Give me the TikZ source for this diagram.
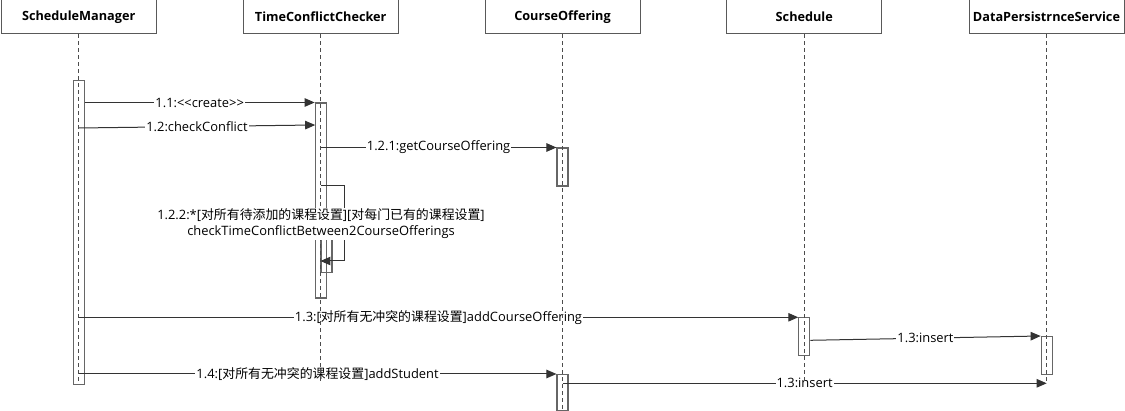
\documentclass[tikz,border=0pt]{standalone}
\usepackage{fontspec}
\setmainfont{Open Sans}
\newfontfamily\cjk{Noto Sans CJK SC}
\usetikzlibrary{arrows.meta}

\tikzset{
  obj/.style={draw=black!65, fill=white, line width=1pt, minimum width=155pt, minimum height=34pt, inner sep=0pt, font=\fontsize{12.7}{14}\selectfont\bfseries},
  act/.style={draw=black!60, line width=1.1pt, minimum width=11pt, inner sep=0pt, anchor=north},
  lifeline/.style={draw=black!70, line width=0.9pt, dash pattern=on 4pt off 3pt},
  msg/.style={draw=black!80, line width=1pt, -{Triangle[length=10pt,width=8.5pt]}},
  lbl/.style={fill=white, inner sep=1pt, font=\fontsize{12.9}{14}\selectfont}
}

\begin{document}
\begin{tikzpicture}[x=1pt, y=-1pt]
  \useasboundingbox (0,0) rectangle (1125,411);
  % objects
  \node[obj] (sm) at (78.7,17) {ScheduleManager};
  \node[obj] (tcc) at (320.7,17) {TimeConflictChecker};
  \node[obj] (co) at (562.5,17) {CourseOffering};
  \node[obj] (sch) at (804.3,17) {Schedule};
  \node[obj] (dps) at (1046.5,17) {DataPersistrnceService};
  % activations
  \node[act, minimum height=304pt] (smA) at (78.7,80) {};
  \node[act, minimum height=195pt] (tccA) at (320.7,102.5) {};
  \node[act, minimum height=40pt] (tccB) at (326.5,232) {};
  \node[act, minimum height=38pt] (coA) at (562.5,147.5) {};
  \node[act, minimum height=36pt] (coB) at (562.5,374) {};
  \node[act, minimum height=38pt] (schA) at (804.3,317.3) {};
  \node[act, minimum height=38pt] (dpsA) at (1046.7,336) {};
  % free ends
  \coordinate (m12s) at (78.7,128);
  \coordinate (m12e) at (315.2,125);
  \coordinate (loop) at (321,186);
  \coordinate (ins1) at (810.3,340.3);
  \coordinate (dpsE) at (1046.7,383.3);
  % messages
  \draw[msg] (smA.east |- tccA.north) -- node[lbl] {1.1:{<}{<}create{>}{>}} (tccA.north west);
  \draw[msg] (m12s) -- node[lbl] {1.2:checkConflict} (m12e);
  \draw[msg] (tccA.center |- coA.north) -- node[lbl] {1.2.1:getCourseOffering} (coA.north west);
  \draw[msg] (loop) -- ++(23,0) -- ++(0,75) -- (tccB.west |- 0,261);
  \draw[msg] (smA.center |- schA.north) -- node[lbl] {1.3:[{\cjk 对所有无冲突的课程设置}]addCourseOffering} (schA.north west);
  \draw[msg] (ins1) -- node[lbl] {1.3:insert} (dpsA.north west);
  \draw[msg] (smA.center |- coB.north) -- node[lbl] {1.4:[{\cjk 对所有无冲突的课程设置}]addStudent} (coB.north west);
  \draw[msg] (coB.center |- dpsE) -- node[lbl] {1.3:insert} (dpsE);
  % lifelines
  \foreach \n in {sm,tcc,sch,dps}
    \draw[lifeline] (\n.south) -- ++(0,349);
  \draw[lifeline] (co.south) -- ++(0,376);
  \node[lbl, align=center, font=\fontsize{12.9}{16}\selectfont] (selfl) at (321,224)
    {1.2.2:*[{\cjk 对所有待添加的课程设置}][{\cjk 对每门已有的课程设置}]\\checkTimeConflictBetween2CourseOfferings};
\end{tikzpicture}
\end{document}
